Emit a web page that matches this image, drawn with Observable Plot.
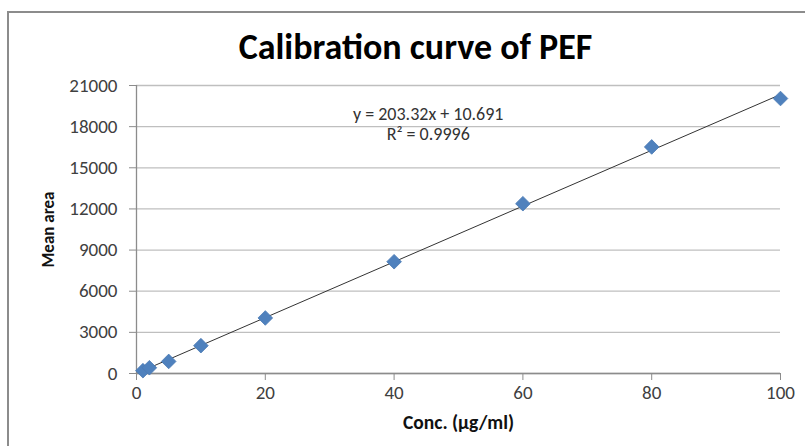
<!DOCTYPE html>
<html>
<head>
<meta charset="utf-8">
<script src="https://cdn.jsdelivr.net/npm/d3@7"></script>
<script src="https://cdn.jsdelivr.net/npm/@observablehq/plot@0.6"></script>
<style>
  html, body { margin: 0; padding: 0; background: #fff; }
  #wrap { position: relative; width: 805px; height: 446px; overflow: hidden; }
  #frame { position: absolute; left: 7px; top: 11px; width: 820px; height: 460px;
           border-left: 2px solid #8c8c8c; border-top: 2px solid #8c8c8c; }
  #chart { position: absolute; left: 0; top: 0; }
</style>
</head>
<body>
<div id="wrap"><div id="frame"></div><div id="chart"></div></div>
<script>
// Calibration standards: concentration (µg/ml) and mean peak area
const conc = [1, 2, 5, 10, 20, 40, 60, 80, 100];
const meanArea = [205, 420, 880, 2030, 4050, 8150, 12380, 16520, 20050];

// Linear trendline reported on the chart
const slope = 203.32;
const intercept = 10.691;
const rSquared = 0.9996;

const xTicks = [0, 20, 40, 60, 80, 100];
const yTicks = [0, 3000, 6000, 9000, 12000, 15000, 18000, 21000];

const titleText = "Calibration curve of PEF";
const xTitle = "Conc. (µg/ml)";
const yTitle = "Mean area";

const points = conc.map((c, i) => ({x: c, y: meanArea[i]}));
const xMin = d3.min(conc), xMax = d3.max(conc);
const fit = [xMin, xMax].map(x => ({x, y: slope * x + intercept}));
const eqLines = [`y = ${slope}x + ${intercept}`, `R² = ${rSquared}`];

const font = "Carlito, Lato, 'Open Sans', sans-serif";

const chart = Plot.plot({
  width: 805,
  height: 446,
  marginLeft: 136,
  marginRight: 25,
  marginTop: 85,
  marginBottom: 73,
  style: {fontFamily: font, fontSize: "19px", background: "transparent", color: "#404040"},
  x: {domain: [0, 100], ticks: xTicks},
  y: {domain: [0, 21000], ticks: yTicks},
  marks: [
    Plot.gridY(yTicks, {stroke: "#bfbfbf", strokeOpacity: 1, strokeWidth: 1.3}),
    Plot.ruleX([0], {stroke: "#8c8c8c", strokeWidth: 1.3}),
    Plot.ruleY([0], {stroke: "#8c8c8c", strokeWidth: 1.3}),
    Plot.axisX(xTicks, {tickSize: 7, tickPadding: 5, stroke: "#8c8c8c", fill: "#404040",
      fontSize: 19, label: null}),
    Plot.axisY(yTicks, {tickSize: 7, tickPadding: 12, stroke: "#8c8c8c", fill: "#404040",
      fontSize: 19, label: null, tickFormat: d => String(d)}),
    Plot.line(fit, {x: "x", y: "y", stroke: "#333", strokeWidth: 1}),
    Plot.dot(points, {x: "x", y: "y", symbol: "diamond2", r: 6.6, fill: "#4f81bd",
      stroke: "#4a7ab4", strokeWidth: 0.8}),
    // trendline equation and R², stacked two lines
    Plot.text(eqLines, {x: () => 45.3, y: (d, i) => 18900 - i * 1480, text: d => d,
      fontSize: 18, fill: "#333", textAnchor: "middle", lineAnchor: "middle"}),
    Plot.text([titleText], {frameAnchor: "top", dx: -43, dy: -38, fontSize: 36,
      fontWeight: "bold", fill: "#000", lineAnchor: "middle"}),
    Plot.text([xTitle], {frameAnchor: "bottom", dy: 49, fontSize: 19.5, fontWeight: "bold",
      fill: "#111", lineAnchor: "middle"}),
    Plot.text([yTitle], {frameAnchor: "left", dx: -88, rotate: -90, fontSize: 17,
      fontWeight: "bold", fill: "#111", textAnchor: "middle", lineAnchor: "middle"})
  ]
});
document.getElementById("chart").appendChild(chart);
</script>
</body>
</html>
